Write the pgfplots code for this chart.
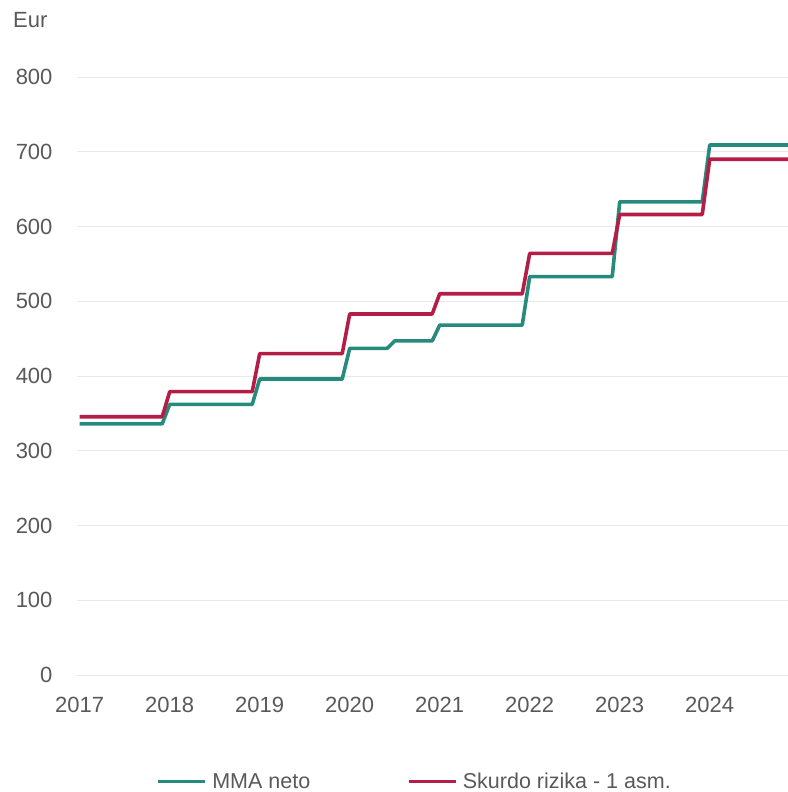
\documentclass[border=0pt]{standalone}
\usepackage{pgfplots}
\pgfplotsset{compat=1.18}
\usepackage{fontspec}
\setmainfont{Liberation Sans}
\definecolor{mmagreen}{RGB}{38,138,124}
\definecolor{skred}{RGB}{180,30,70}
\definecolor{txt}{RGB}{89,89,89}
\definecolor{gridc}{RGB}{232,232,232}
\begin{document}
\begin{tikzpicture}
\path[use as bounding box] (0pt,0pt) rectangle (787pt,792pt);
\node[anchor=west, text=txt, inner sep=0pt, font=\fontsize{22}{26}\selectfont] at (13pt,772pt) {Eur};
\begin{axis}[
  at={(77pt,117pt)}, anchor=south west,
  scale only axis, width=711pt, height=598pt,
  xmin=2016.97, xmax=2024.87, ymin=0, ymax=800,
  axis line style={draw=none},
  ytick={0,100,...,800}, xtick={2017,...,2024},
  ymajorgrids, grid style={gridc, line width=0.8pt},
  major tick length=0pt,
  /pgf/number format/assume math mode=true,
  /pgf/number format/1000 sep={},
  ticklabel style={text=txt, font=\fontsize{22}{26}\selectfont},
  yticklabel style={anchor=east, xshift=-21pt},
  xticklabel style={anchor=north, yshift=-19pt},
  clip=true,
  legend columns=2,
  legend style={at={(axis description cs:0.475,0)}, anchor=center, yshift=-106.5pt,
    draw=none, fill=none, text=txt, font=\fontsize{21.5}{25}\selectfont,
    /tikz/every even column/.append style={column sep=95pt}, inner xsep=0pt, inner ysep=0pt},
  legend image code/.code={\draw[#1] (0pt,0pt) -- (47pt,0pt);},
  every axis plot/.append style={line width=3.6pt, line join=round},
]
\addplot[mmagreen] coordinates {
(2017,336) (2017.917,336) (2018,362) (2018.917,362) (2019,396) (2019.917,396)
(2020,437) (2020.417,437) (2020.5,447) (2020.917,447) (2021,468) (2021.917,468)
(2022,533) (2022.917,533) (2023,633) (2023.917,633) (2024,709) (2024.917,709)};
\addlegendentry{\hspace{3pt}MMA neto}
\addplot[skred] coordinates {
(2017,345.5) (2017.917,345.5) (2018,379) (2018.917,379) (2019,430) (2019.917,430)
(2020,483) (2020.917,483) (2021,510) (2021.917,510) (2022,564) (2022.917,564)
(2023,616) (2023.917,616) (2024,690) (2024.917,690)};
\addlegendentry{\hspace{3pt}Skurdo rizika - 1 asm.}
\end{axis}
\end{tikzpicture}
\end{document}
